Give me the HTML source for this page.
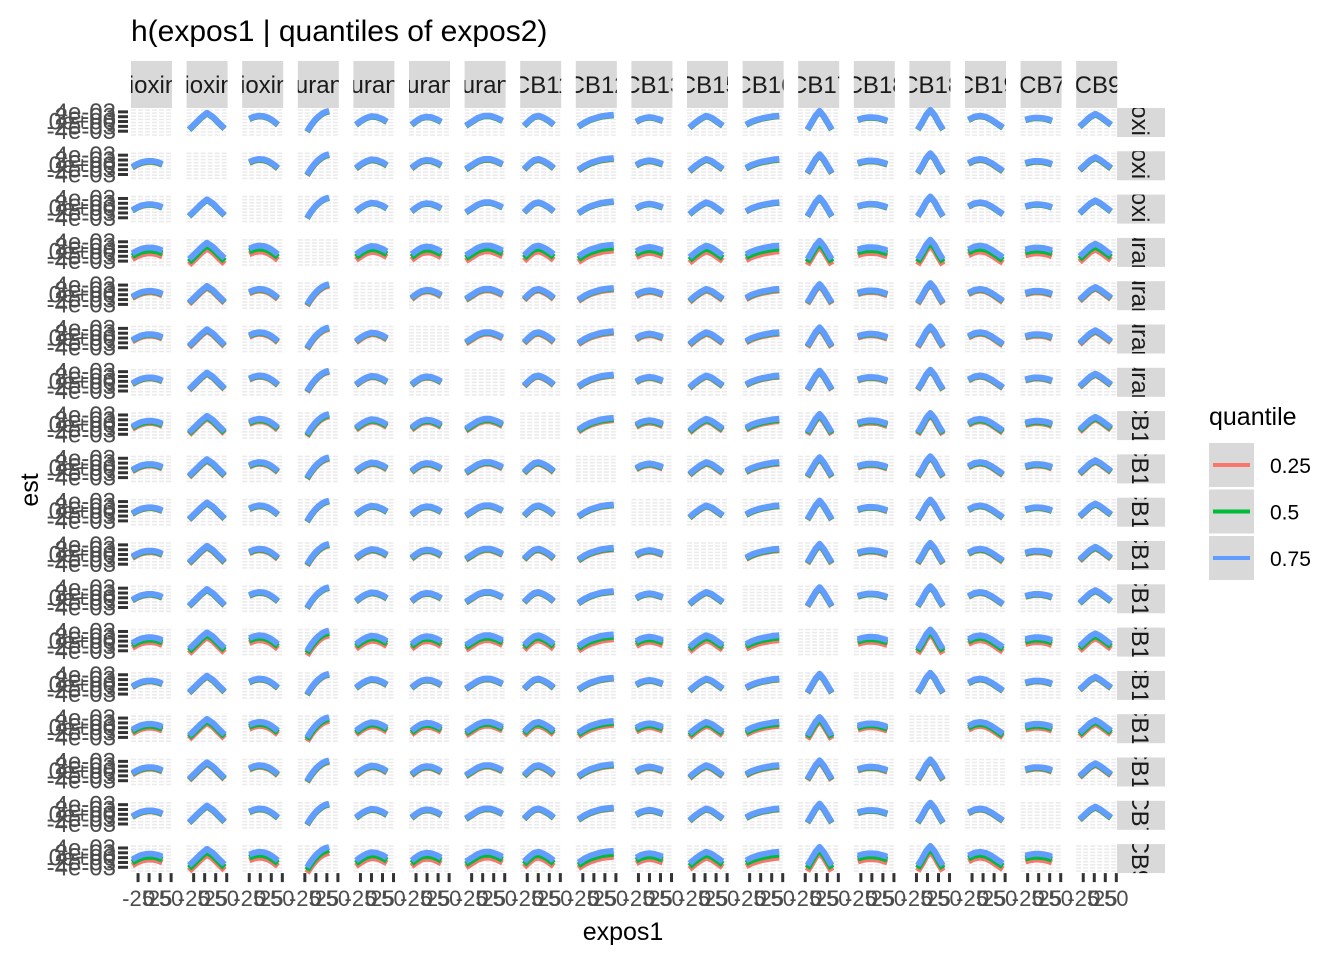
<!DOCTYPE html>
<html><head><meta charset="utf-8"><style>
body{margin:0;background:#fff}
svg{display:block;font-family:"Liberation Sans",Arial,sans-serif}
</style></head><body>
<svg id="chart" width="1344" height="960" viewBox="0 0 1344 960">
<text x="131" y="41" font-size="30" fill="#000">h(expos1 | quantiles of expos2)</text>
<text transform="translate(38,490) rotate(-90)" text-anchor="middle" font-size="25" fill="#000">est</text>
<text x="623" y="940" text-anchor="middle" font-size="25" fill="#000">expos1</text>
<g id="panels"></g>
<g>
<text x="1209" y="425" font-size="25" fill="#000">quantile</text>
<g id="legend"></g>
</g>
</svg>
<script>
const names = ["Dioxin1","Dioxin2","Dioxin3","Furan1","Furan2","Furan3","Furan4","PCB118","PCB126","PCB138","PCB153","PCB169","PCB170","PCB180","PCB187","PCB194","PCB74","PCB99"];
const quantiles = ["0.25","0.5","0.75"];
const colors = ["#F8766D","#00BA38","#619CFF"];
// curve shapes per expos1 column (est, e-04 units) at 7 evenly spaced points
const shapes = [
 [-2,-0.5,0.5,1,1,0.5,-0.5],
 [-5,-2,1,3.5,1.5,-1.5,-4.5],
 [0.5,1.5,2,1.8,1,-0.5,-2.5],
 [-6,-3,-0.5,1.5,3,4,4.5],
 [-2.5,-0.5,1,1.8,1.5,0.5,-1],
 [-2.5,-0.5,1,1.5,1.3,0.3,-1],
 [-3,-1,1,2,2,1,-0.5],
 [-3,-0.5,1.5,2,1,-0.5,-2.5],
 [-3.5,-1.5,0,1,1.8,2.2,2.5],
 [-1,0.3,1,1.3,1,0.3,-0.5],
 [-4,-1.5,0.5,2,1,-1,-3],
 [-2.5,-1,0,0.8,1.3,1.8,2],
 [-5,-1.5,2,4.5,2,-1.5,-5],
 [0,0.8,1.2,1.2,1,0.3,-0.5],
 [-5,-1.5,2.5,5,2.5,-1.5,-5],
 [0,1.5,2,1.5,0,-2,-4],
 [0,0.6,1,1,0.8,0.3,-0.5],
 [-3.5,-1,1.5,3,1.5,-0.5,-2.5]
];
const xStart = [-38,-35,-25,-20,-35,-35,-38,-32,-35,-30,-35,-33,-20,-32,-22,-33,-30,-33];
const xEnd   = [ 30, 45, 40, 30, 35, 32, 45, 35, 45, 30, 40, 42, 35, 35, 35, 45, 30, 38];
// quantile offsets per expos2 row: [0.25, 0.5, 0.75]
const offsets = [
 [-0.3,-0.2,0],[-0.5,-0.3,0],[-0.3,-0.2,0],[-3,-1.5,0],[-0.8,-0.3,0],[-0.8,-0.3,0],
 [-0.6,-0.3,0],[-1.2,-0.6,0],[-0.8,-0.4,0],[-0.5,-0.3,0],[-0.8,-0.4,0],[-0.5,-0.3,0],
 [-2.5,-1.2,0],[-0.5,-0.3,0],[-2,-1,0],[-0.8,-0.4,0],[-0.5,-0.3,0],[-3,-1.5,0]
];
const xTicks = [-25,0,25,50];
const xTickLabels = ["-25","0","25","50"];
const yTicks = [4,1.5,-1,-3.5,-6];
const yTickLabels = ["4e-03","2e-03","0e+00","-2e-03","-4e-03"];

const NS="http://www.w3.org/2000/svg";
const P0X=131, PX=55.6, PW=41, P0Y=108, PY=43.3, PH=29;
const XD=[-41,52], YD=[-9,6];
function xs(c,v){return P0X+c*PX+(v-XD[0])/(XD[1]-XD[0])*PW;}
function ys(r,v){return P0Y+r*PY+PH-(v-YD[0])/(YD[1]-YD[0])*PH;}
function mk(tag,attrs,parent){const e=document.createElementNS(NS,tag);for(const k in attrs)e.setAttribute(k,attrs[k]);parent.appendChild(e);return e;}
const g=document.getElementById('panels');
const defs=mk('defs',{},g);
const n=names.length;
for(let c=0;c<n;c++){
  const cx=P0X+c*PX;
  const cp=mk('clipPath',{id:'cs'+c},defs);mk('rect',{x:cx,y:61,width:PW,height:47},cp);
  const st=mk('rect',{x:cx,y:61,width:PW,height:47,fill:'#d9d9d9'},g);
  
  
  const cg=mk('g',{'clip-path':'url(#cs'+c+')'},g);
  const t=mk('text',{x:cx+PW/2,y:93,'text-anchor':'middle','font-size':24,fill:'#1a1a1a'},cg);
  t.textContent=names[c];
  
  
  for(let i=0;i<xTicks.length;i++){
    const tx=xs(c,xTicks[i]);
    mk('line',{x1:tx,x2:tx,y1:P0Y+17*PY+PH,y2:P0Y+17*PY+PH+9,stroke:'#333','stroke-width':3},g);
    const tl=mk('text',{x:tx,y:906,'text-anchor':'middle','font-size':22,fill:'#4d4d4d'},g);
    tl.textContent=xTickLabels[i];
    
    
  }
}
for(let r=0;r<n;r++){
  const ry=P0Y+r*PY;
  const cp=mk('clipPath',{id:'rs'+r},defs);mk('rect',{x:1117,y:ry,width:48,height:PH},cp);
  const st=mk('rect',{x:1117,y:ry,width:48,height:PH,fill:'#d9d9d9'},g);
  
  
  const rg=mk('g',{'clip-path':'url(#rs'+r+')'},g);
  const t=mk('text',{transform:`translate(1132,${ry+PH/2}) rotate(90)`,'text-anchor':'middle','font-size':24,fill:'#1a1a1a'},rg);
  t.textContent=names[r];
  
  
  for(let i=0;i<yTicks.length;i++){
    const ty=ys(r,yTicks[i]);
    mk('line',{x1:118,x2:128,y1:ty,y2:ty,stroke:'#333','stroke-width':3},g);
    const tl=mk('text',{x:116,y:ty+8,'text-anchor':'end','font-size':24,fill:'#4d4d4d'},g);
    tl.textContent=yTickLabels[i];
    
    
  }
  for(let c=0;c<n;c++){
    const cx=P0X+c*PX;
    const pg=mk('g',{},g);
    
    
    for(let k=0;k<9;k++){
      const gy=ry+2+k*(PH-4)/8;
      mk('line',{x1:cx,x2:cx+PW,y1:gy,y2:gy,stroke:'#ebebeb','stroke-width':1.6,'stroke-dasharray':'5,2'},pg);
    }
    if(r===c) continue;
    const sh=shapes[c];
    for(let q=0;q<3;q++){
      let d='';
      for(let i=0;i<sh.length;i++){
        const xv=xStart[c]+(xEnd[c]-xStart[c])*i/(sh.length-1);
        d+=(i?'L':'M')+xs(c,xv).toFixed(1)+','+ys(r,sh[i]+offsets[r][q]).toFixed(1);
      }
      const p=mk('path',{d:d,fill:'none',stroke:colors[q],'stroke-width':6,'stroke-linejoin':'round'},pg);
      
      
    }
  }
}
const lg=document.getElementById('legend');
for(let q=0;q<3;q++){
  const y0=443+q*46.5;
  const k=mk('rect',{x:1209,y:y0,width:45,height:44,fill:'#d9d9d9'},lg);
  
  
  mk('line',{x1:1213,x2:1250,y1:y0+22,y2:y0+22,stroke:colors[q],'stroke-width':4},lg);
  const t=mk('text',{x:1270,y:y0+30,'font-size':21,fill:'#000'},lg);
  t.textContent=quantiles[q];
  
  
}
</script>
</body></html>
